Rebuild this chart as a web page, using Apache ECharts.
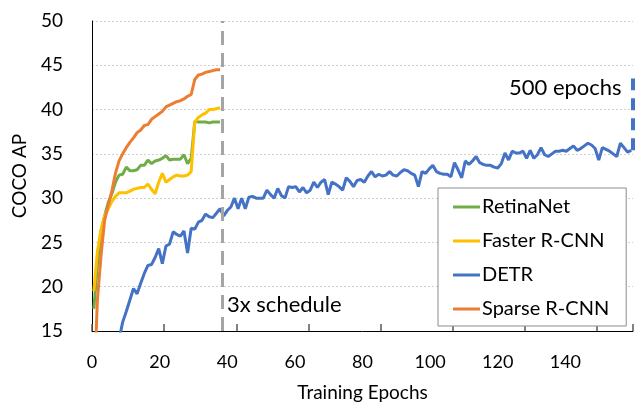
<!DOCTYPE html>
<html>
<head>
<meta charset="utf-8">
<script src="https://cdn.jsdelivr.net/npm/echarts@6/dist/echarts.min.js"></script>
<style>
html,body{margin:0;padding:0;background:#fff;overflow:hidden;}
#chart{width:635px;height:406px;}
</style>
</head>
<body>
<div id="chart"></div>
<script>
// ---- data ----
const epochs = [1,2,3,4,5,6,7,8,9,10,11,12,13,14,15,16,17,18,19,20,21,22,23,24,25,26,27,28,29,30,31,32,33,34,35,36];
const retinaNet = [17.5,22.5,26.3,28.0,29.5,30.5,31.8,32.6,32.7,33.5,33.1,33.1,33.2,33.7,33.7,34.3,33.9,34.2,34.3,34.5,34.8,34.3,34.4,34.4,34.4,34.9,33.9,34.5,38.7,38.6,38.6,38.6,38.5,38.6,38.6,38.6];
const fasterRCNN = [19.5,24.0,26.5,28.0,28.8,29.6,30.2,30.6,30.6,30.6,30.8,31.0,31.1,31.2,31.2,31.6,31.0,30.5,31.8,32.8,31.8,32.1,32.4,32.6,32.5,32.5,32.6,33.0,38.6,39.1,39.4,39.6,40.0,40.0,40.1,40.2];
const sparseRCNN = [8.0,18.5,23.5,27.5,29.2,30.8,32.8,34.2,35.0,35.7,36.3,36.8,37.4,37.7,38.2,38.3,38.9,39.2,39.5,39.8,40.3,40.5,40.7,40.9,41.0,41.2,41.5,41.7,43.4,43.9,44.0,44.2,44.3,44.4,44.5,44.5];
const detrFirstEpoch = 8;
const detr = [14.0,16.0,17.2,18.5,19.8,19.2,20.4,21.5,22.4,22.5,
  23.3,24.3,22.6,24.6,24.8,26.2,25.9,25.7,26.3,23.8,
  26.6,26.5,27.3,27.5,28.2,27.9,27.8,28.3,28.8,28.0,
  28.6,29.0,30.0,28.8,30.0,28.8,30.1,30.2,30.0,30.0,
  30.0,30.9,30.4,30.0,31.1,30.3,30.0,31.3,31.2,31.3,
  30.7,31.2,30.6,30.9,31.8,31.2,31.8,32.1,30.4,31.8,
  31.6,31.3,30.9,32.3,31.9,31.3,32.0,32.1,31.8,32.5,
  33.0,32.4,32.7,32.5,32.6,33.0,32.6,32.5,32.9,33.2,
  33.1,32.8,32.6,31.3,33.0,32.8,33.3,33.7,33.0,32.8,
  32.7,32.7,32.4,34.0,33.2,32.3,34.2,33.8,34.2,34.7,
  34.0,33.8,33.7,33.7,33.5,33.4,33.9,35.1,34.3,35.3,
  35.1,35.1,35.3,34.5,35.4,34.5,34.9,35.7,34.9,34.7,
  35.0,35.3,35.3,35.4,35.3,35.6,35.9,35.4,35.6,35.9,
  36.2,36.0,35.6,34.3,35.7,35.5,35.3,35.0,34.7,36.2,
  35.7,35.2,35.4];
const scheduleEpoch = 36;           // "3x schedule"
const detrLongRun = [35.4, 43.5];    // "500 epochs" marker span (AP)
const xTickLabels = [0,20,40,60,80,100,120,140];
const yTicks = [15,20,25,30,35,40,45,50];

// each epoch is drawn at the centre of its band on the epoch axis
const toPairs = (xs, ys) => ys.map((v, i) => [xs[i] - 0.5, v]);
const detrEpochs = detr.map((_, i) => detrFirstEpoch + i);

const FONT = 'Lato, "Open Sans", sans-serif';
const chart = echarts.init(document.getElementById('chart'), null, {renderer: 'canvas'});
chart.setOption({
  animation: false,
  backgroundColor: '#ffffff',
  grid: {left: 92, right: 2, top: 21, bottom: 75, containLabel: false, outerBoundsMode: 'none'},
  xAxis: [{
    type: 'value', min: 0, max: 150, interval: 20, position: 'bottom',
    axisLine: {show: true, lineStyle: {color: '#000', width: 1}},
    axisTick: {show: true, inside: true, length: 7, lineStyle: {color: '#595959', width: 1.5}},
    axisLabel: {show: false},
    splitLine: {show: false},
    name: 'Training Epochs', nameLocation: 'middle', nameGap: 52,
    nameTextStyle: {fontFamily: FONT, fontSize: 19, color: '#000'}
  }, {
    type: 'value', min: 0, max: 160, interval: 20, position: 'bottom',
    axisLine: {show: false}, axisTick: {show: false}, splitLine: {show: false},
    axisLabel: {show: true, showMaxLabel: false, margin: 22, fontFamily: FONT, fontSize: 18, color: '#000',
      formatter: v => xTickLabels.indexOf(v) >= 0 ? String(v) : ''}
  }],
  yAxis: {
    type: 'value', min: yTicks[0], max: yTicks[yTicks.length-1], interval: 5,
    axisLine: {show: true, lineStyle: {color: '#000', width: 1}},
    axisTick: {show: false},
    axisLabel: {margin: 29, fontFamily: FONT, fontSize: 19, color: '#000'},
    splitLine: {show: true, lineStyle: {color: '#d0d0d0', type: [2, 2], width: 1}},
    name: 'COCO AP', nameLocation: 'middle', nameRotate: 90, nameGap: 63,
    nameTextStyle: {fontFamily: FONT, fontSize: 19, color: '#000'}
  },
  legend: {
    orient: 'vertical', left: 438, top: 188,
    backgroundColor: '#fff', borderColor: '#8c8c8c', borderWidth: 1,
    padding: [8, 17, 6, 15], itemGap: 12, itemWidth: 27, itemHeight: 3,
    icon: 'rect',
    textStyle: {fontFamily: FONT, fontSize: 20, color: '#000', padding: [0,0,0,-3], lineHeight: 22},
    data: ['RetinaNet', 'Faster R-CNN', 'DETR', 'Sparse R-CNN']
  },
  series: [{
    name: 'RetinaNet', type: 'line', showSymbol: false, symbol: 'none', clip: true,
    color: '#70AD47', lineStyle: {width: 3, color: '#70AD47'},
    data: toPairs(epochs, retinaNet)
  }, {
    name: 'Faster R-CNN', type: 'line', showSymbol: false, symbol: 'none', clip: true,
    color: '#FFC000', lineStyle: {width: 3, color: '#FFC000'},
    data: toPairs(epochs, fasterRCNN)
  }, {
    name: 'DETR', type: 'line', showSymbol: false, symbol: 'none', clip: true,
    color: '#4472C4', lineStyle: {width: 3, color: '#4472C4'},
    data: toPairs(detrEpochs, detr),
    markLine: {
      silent: true, symbol: 'none', animation: false,
      lineStyle: {color: '#4472C4', width: 4, type: [12, 8]},
      label: {show: false},
      data: [[{coord: [150, detrLongRun[0]]}, {coord: [150, detrLongRun[1]]}]]
    }
  }, {
    name: 'Sparse R-CNN', type: 'line', showSymbol: false, symbol: 'none', clip: true,
    color: '#ED7D31', lineStyle: {width: 3, color: '#ED7D31'},
    data: toPairs(epochs, sparseRCNN),
    markLine: {
      silent: true, symbol: 'none', animation: false,
      lineStyle: {color: '#A5A5A5', width: 3, type: [14, 8]},
      label: {show: false},
      data: [[{coord: [scheduleEpoch, 15]}, {coord: [scheduleEpoch, 50]}]]
    }
  }],
  graphic: [{
    type: 'text', left: 227, top: 294,
    style: {text: '3x schedule', font: '22px ' + FONT, fill: '#000'}
  }, {
    type: 'text', left: 509, top: 77,
    style: {text: '500 epochs', font: '22px ' + FONT, fill: '#000'}
  }]
});
</script>
</body>
</html>
